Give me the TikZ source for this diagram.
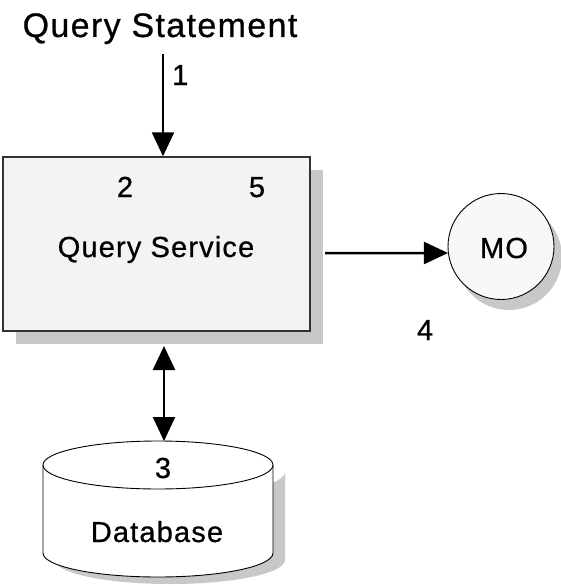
\documentclass[tikz,border=0pt]{standalone}
\usepackage{fontspec}
\setmainfont{Liberation Sans}[LetterSpace=4, FakeBold=0.7]
\usetikzlibrary{arrows.meta}
\definecolor{shadowgray}{HTML}{C8C8C8}
\definecolor{boxfill}{HTML}{F3F3F3}
\definecolor{ballfill}{HTML}{F8F8F8}
\definecolor{edgegray}{HTML}{333333}
\tikzset{
  lbl/.style={inner sep=0pt, anchor=base, font=\fontsize{29}{34}\selectfont},
  title/.style={inner sep=0pt, anchor=base, font=\fontsize{34}{40}\selectfont},
  flow/.style={line width=2.5pt, -{Triangle[length=24pt,width=22pt]}},
  bothflow/.style={line width=2.5pt, {Triangle[length=24pt,width=22pt]}-{Triangle[length=24pt,width=22pt]}},
  service/.style={draw=edgegray, line width=1.5pt, fill=boxfill, inner sep=0pt,
    minimum width=307pt, minimum height=174pt},
  object/.style={circle, draw=black, line width=0.9pt, fill=ballfill, inner sep=0pt,
    minimum size=106pt},
}
\begin{document}
\begin{tikzpicture}[x=1pt, y=-1pt]
\useasboundingbox (0,0) rectangle (561,586);

% drop shadows
\fill[shadowgray] (16,170) rectangle (323,344);
\fill[shadowgray] (509,257) circle (53);
\fill[shadowgray] (55,472) -- (55,560)
  arc[start angle=180, end angle=0, x radius=115, y radius=24] -- (285,472)
  arc[start angle=0, end angle=180, x radius=115, y radius=24] -- cycle;

% query service box and managed object
\node[service] (svc) at (156.5,244) {};
\node[object] (mo) at (501,246.5) {};

% database cylinder
\filldraw[fill=white, draw=black, line width=0.9pt] (43,465) -- (43,553)
  arc[start angle=180, end angle=0, x radius=115, y radius=24] -- (273,465);
\filldraw[fill=white, draw=black, line width=0.9pt] (158,465) ellipse [x radius=115, y radius=24];
\coordinate (dbtop) at (164,441);

% texts
\node[title] (stmt) at (160,37) {Query Statement};
\node[lbl, anchor=base west] (n1) at (172,85) {1};
\node[lbl] (n2) at (125,197) {2};
\node[lbl] (n5) at (257,197) {5};
\node[lbl] (svctext) at (156,257) {Query Service};
\node[lbl] (motext) at (504,258) {MO};
\node[lbl] (n4) at (425,340) {4};
\node[lbl] (n3) at (163,478) {3};
\node[lbl] (dbtext) at (157,542) {Database};

% connectors
\coordinate (inTop) at (163,54);
\coordinate (outStart) at (325,253);
\coordinate (dbStart) at (164,346);
\draw[flow] (inTop) -- (inTop |- svc.north);
\draw[flow] (outStart) -- (mo.187);
\draw[bothflow] (dbStart) -- (dbtop);
\end{tikzpicture}
\end{document}
